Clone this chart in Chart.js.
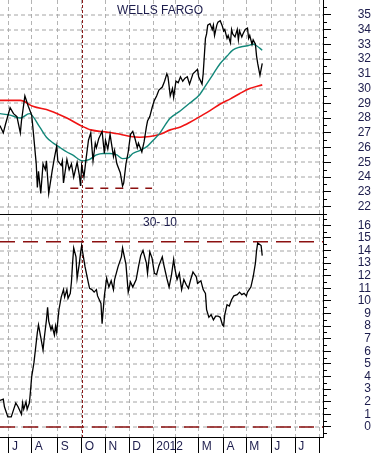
<!DOCTYPE html>
<html>
<head>
<meta charset="utf-8">
<script src="https://cdn.jsdelivr.net/npm/chart.js@4.4.1/dist/chart.umd.min.js"></script>
<style>
  html, body { margin: 0; padding: 0; background: #fff; }
  .wrap { width: 371px; height: 453px; position: relative; }
</style>
</head>
<body>
<div class="wrap"><canvas id="wfcChart"></canvas></div>
<script>
// x = trading-session index, 0 = first session of July 2011
const monthDays = [0, 20, 43, 64, 85, 106, 127, 147, 167, 189, 209, 231, 252, 273];
const monthLabels = ['J', 'A', 'S', 'O', 'N', 'D', '2012', '', 'M', 'A', 'M', 'J', 'J', ''];

const priceTicks = [22, 23, 24, 25, 26, 27, 28, 29, 30, 31, 32, 33, 34, 35];
const oscTicks = [0, 1, 2, 3, 4, 5, 6, 7, 8, 9, 10, 11, 12, 13, 14, 15, 16];

const priceDays = [
  -8, -5, -3, 1, 4, 7, 10, 11, 14, 17,
  20, 21, 24, 25, 26, 28, 30, 32, 33, 35,
  38, 40, 42, 43, 46, 47, 48, 51, 53, 55,
  57, 60, 62, 63, 64, 66, 68, 70, 72, 74,
  76, 77, 79, 82, 84, 85, 87, 89, 92, 93,
  95, 98, 100, 101, 103, 105, 107, 109, 111, 113,
  114, 117, 119, 121, 122, 124, 126, 128, 130, 132,
  135, 137, 139, 140, 142, 144, 145, 147, 149, 151,
  153, 155, 157, 159, 162, 166, 167, 170, 171, 173,
  174, 175, 177, 179, 180, 181, 183, 184, 186, 188,
  189, 190, 192, 193, 195, 196, 197, 199, 201, 202,
  203, 205, 206, 208, 210, 211, 212, 214, 215, 217,
  218, 219, 220, 221, 223,
];
const priceVals = [
  27.5, 27.0, 27.6, 28.7, 28.3, 28.1, 27.0, 27.8, 29.5, 28.8,
  28.2, 27.4, 24.9, 23.3, 24.4, 22.9, 24.9, 24.5, 25.1, 22.9,
  24.4, 25.3, 26.1, 25.1, 24.8, 25.1, 23.6, 25.2, 24.5, 24.9,
  24.0, 25.0, 24.1, 23.4, 24.8, 24.0, 25.3, 26.5, 27.0, 25.1,
  26.3, 26.0, 26.6, 27.1, 25.6, 26.5, 25.9, 26.9, 25.4, 25.8,
  24.9, 24.3, 23.4, 23.6, 24.9, 25.7, 26.9, 27.1, 26.6, 26.0,
  26.3, 25.7, 26.4, 27.4, 27.8, 28.1, 28.7, 29.2, 29.5, 29.9,
  30.1, 30.5, 31.0, 30.8, 29.5, 30.0, 29.4, 30.5, 30.4, 30.8,
  30.5, 30.7, 30.8, 30.3, 31.0, 31.3, 30.8, 30.3, 31.0, 33.4,
  33.7, 34.3, 34.4, 34.0, 34.3, 33.6, 34.3, 34.5, 34.6, 34.2,
  33.9, 34.0, 33.4, 33.6, 33.1, 34.0, 33.7, 33.5, 34.0, 33.3,
  33.9, 33.5, 33.7, 34.0, 34.1, 33.4, 33.6, 33.0, 33.3, 33.0,
  32.2, 31.7, 31.3, 30.9, 31.7,
];

const ma50Days = [
  -8, 1, 10, 18, 27, 33, 39, 45, 51, 56,
  65, 71, 77, 83, 89, 95, 100, 105, 109, 115,
  122, 127, 133, 139, 142, 151, 159, 168, 174, 180,
  186, 192, 197, 203, 210, 215, 218, 223,
];
const ma50Vals = [
  28.3, 28.2, 28.0, 28.3, 27.4, 26.7, 26.3, 26.0, 25.7, 25.5,
  25.1, 25.2, 25.5, 25.6, 25.6, 25.5, 25.25, 25.3, 25.6, 25.8,
  26.1, 26.5, 27.0, 27.7, 28.0, 28.5, 29.0, 29.6, 30.3, 31.0,
  31.7, 32.2, 32.6, 32.8, 32.9, 33.0, 32.9, 32.6,
];

const ma200Days = [
  -8, 10, 21, 36, 51, 63, 72, 86, 98, 107,
  115, 124, 133, 142, 151, 159, 168, 177, 186, 195,
  203, 212, 223,
];
const ma200Vals = [
  29.2, 29.2, 28.8, 28.5, 28.0, 27.5, 27.2, 27.05, 26.9, 26.75,
  26.7, 26.75, 26.9, 27.2, 27.4, 27.7, 28.1, 28.5, 28.95, 29.3,
  29.65, 30.0, 30.25,
];

const oscDays = [
  -8, -5, -4, -1, 2, 4, 6, 8, 11, 12,
  13, 15, 16, 18, 19, 20, 22, 24, 25, 26,
  28, 30, 31, 33, 34, 35, 37, 38, 40, 41,
  42, 44, 46, 48, 49, 51, 52, 54, 55, 56,
  57, 59, 60, 62, 63, 64, 65, 67, 70, 71,
  73, 75, 77, 78, 81, 82, 84, 86, 88, 90,
  92, 93, 96, 99, 100, 103, 105, 107, 109, 112,
  114, 116, 118, 121, 122, 124, 126, 128, 130, 132,
  135, 136, 139, 141, 143, 145, 146, 148, 150, 152,
  154, 156, 158, 160, 162, 165, 166, 169, 171, 173,
  174, 176, 178, 180, 182, 184, 186, 188, 189, 190,
  192, 194, 196, 198, 201, 203, 205, 207, 209, 210,
  213, 215, 217, 218, 219, 222, 223,
];
const oscVals = [
  2.1, 2.2, 1.6, 0.8, 0.8, 1.35, 1.9, 1.6, 1.0, 1.9,
  1.4, 2.0, 1.4, 1.9, 2.9, 4.0, 5.1, 6.7, 7.5, 8.1,
  7.1, 6.1, 7.0, 8.5, 9.5, 8.4, 7.7, 8.0, 7.3, 8.0,
  7.5, 9.3, 10.3, 10.9, 10.3, 10.9, 10.2, 10.6, 11.5, 13.0,
  14.2, 13.5, 11.8, 13.0, 13.8, 14.4, 13.8, 12.7, 11.4, 11.0,
  10.9, 10.7, 10.9, 10.4, 9.8, 8.2, 10.4, 11.8, 11.1, 11.6,
  10.9, 11.7, 12.7, 13.5, 14.2, 12.9, 10.7, 11.5, 11.1, 11.7,
  12.7, 13.6, 14.0, 13.0, 12.2, 13.9, 13.4, 12.2, 12.1, 12.8,
  13.5, 13.0, 11.8, 11.1, 12.0, 13.3, 12.6, 11.7, 12.2, 10.9,
  11.7, 11.3, 11.0, 11.7, 12.3, 11.9, 11.4, 11.6, 10.9, 10.6,
  9.3, 8.7, 8.9, 8.5, 8.8, 8.8, 8.7, 8.1, 8.0, 8.9,
  9.7, 9.6, 10.1, 10.4, 10.5, 10.7, 10.5, 10.6, 10.4, 10.7,
  11.1, 11.9, 13.0, 14.0, 14.6, 14.4, 13.6,
];

const supportLevel = 23.25;
const supportFrom = 54;
const supportTo = 126;
const oscBands = [14.7, 0];
const markerDay = 64;

const X_MIN = -7.9;
const X_MAX = 276.5;
const FONT = '"Liberation Sans", Arial, sans-serif';
const LABEL_COLOR = '#1c1c4c';
const GRID_COLOR = '#b4b4b4';

const toPoints = (days, vals) => days.map((d, i) => ({ x: d, y: vals[i] }));

const decor = {
  id: 'decor',
  beforeDatasetsDraw(chart) {
    const { ctx, chartArea, scales } = chart;
    ctx.save();
    ctx.lineWidth = 1;

    // horizontal grid of both panels
    ctx.strokeStyle = '#a4a4a4';
    ctx.setLineDash([4, 3]);
    [[scales.yTop, priceTicks], [scales.yBot, oscTicks]].forEach(([s, list]) => {
      list.forEach((v) => {
        const y = Math.round(s.getPixelForValue(v));
        ctx.beginPath();
        ctx.moveTo(chartArea.left, y);
        ctx.lineTo(chartArea.right, y);
        ctx.stroke();
      });
    });

    // Oct 1 marker
    const x = Math.round(scales.x.getPixelForValue(markerDay)) + 0.5;
    ctx.strokeStyle = '#8b1a1a';
    ctx.setLineDash([3, 2]);
    ctx.beginPath();
    ctx.moveTo(x, chartArea.top);
    ctx.lineTo(x, chartArea.bottom);
    ctx.stroke();
    ctx.restore();
  },
  afterDraw(chart) {
    const { ctx, chartArea, scales } = chart;
    ctx.save();
    ctx.lineWidth = 1;

    // divider between the two panels
    const sep = Math.round(scales.yTop.bottom) + 0.5;
    ctx.strokeStyle = '#000';
    ctx.beginPath();
    ctx.moveTo(chartArea.left, sep);
    ctx.lineTo(chartArea.right + 4, sep);
    ctx.stroke();

    // half-unit minor ticks on the right axes
    [scales.yTop, scales.yBot].forEach((s) => {
      const start = Math.ceil(s.min * 2) / 2;
      ctx.beginPath();
      for (let v = start; v <= s.max; v += 0.5) {
        if (Number.isInteger(v)) continue;
        const y = Math.round(s.getPixelForValue(v)) + 0.5;
        ctx.moveTo(s.left, y);
        ctx.lineTo(s.left + 4, y);
      }
      ctx.stroke();
    });

    ctx.fillStyle = LABEL_COLOR;
    ctx.font = `12px ${FONT}`;
    ctx.textAlign = 'center';
    ctx.textBaseline = 'middle';
    ctx.fillText('WELLS FARGO', 160, 11);
    ctx.fillText('30- 10', 160, 223);
    ctx.restore();
  },
};

const yAxis = (stackWeight, min, max, tickList) => ({
  type: 'linear',
  position: 'right',
  stack: 'panels',
  stackWeight,
  min,
  max,
  afterBuildTicks: (s) => { s.ticks = tickList.map((v) => ({ value: v })); },
  afterFit: (s) => { s.width = 48; s.paddingTop = 0; s.paddingBottom = 0; },
  grid: { drawOnChartArea: false, tickColor: '#000', tickLength: 8, tickBorderDash: [] },
  border: { color: '#000' },
  ticks: {
    color: LABEL_COLOR,
    font: { family: FONT, size: 12 },
    padding: 23,
    crossAlign: 'far',
    autoSkip: false,
  },
});

new Chart(document.getElementById('wfcChart'), {
  type: 'line',
  data: {
    datasets: [
      {
        data: toPoints(priceDays, priceVals),
        yAxisID: 'yTop',
        borderColor: '#000',
        borderWidth: 1.3,
        pointRadius: 0,
        tension: 0,
      },
      {
        data: toPoints(ma50Days, ma50Vals),
        yAxisID: 'yTop',
        borderColor: '#13887a',
        borderWidth: 1.4,
        pointRadius: 0,
        cubicInterpolationMode: 'monotone',
      },
      {
        data: toPoints(ma200Days, ma200Vals),
        yAxisID: 'yTop',
        borderColor: '#f01414',
        borderWidth: 1.6,
        pointRadius: 0,
        cubicInterpolationMode: 'monotone',
      },
      {
        data: toPoints(oscDays, oscVals),
        yAxisID: 'yBot',
        borderColor: '#000',
        borderWidth: 1.3,
        pointRadius: 0,
        tension: 0,
      },
      {
        data: [{ x: supportFrom, y: supportLevel }, { x: supportTo, y: supportLevel }],
        yAxisID: 'yTop',
        borderColor: '#8b1010',
        borderWidth: 1.5,
        borderDash: [8, 7],
        pointRadius: 0,
      },
      ...oscBands.map((level) => ({
        data: [{ x: X_MIN, y: level }, { x: X_MAX, y: level }],
        yAxisID: 'yBot',
        borderColor: '#8b1010',
        borderWidth: 1.5,
        borderDash: [15, 8],
        pointRadius: 0,
      })),
    ],
  },
  options: {
    responsive: true,
    maintainAspectRatio: false,
    animation: false,
    layout: { padding: 0 },
    plugins: {
      legend: { display: false },
      tooltip: { enabled: false },
    },
    scales: {
      x: {
        type: 'linear',
        position: 'bottom',
        min: X_MIN,
        max: X_MAX,
        afterBuildTicks: (s) => { s.ticks = monthDays.map((v) => ({ value: v })); },
        afterFit: (s) => { s.height = 16; s.paddingLeft = 0; s.paddingRight = 0; },
        grid: { color: GRID_COLOR, tickColor: '#000', tickLength: 16, tickBorderDash: [] },
        border: { color: '#000', dash: [4, 3] },
        ticks: {
          color: LABEL_COLOR,
          font: { family: FONT, size: 12 },
          align: 'start',
          labelOffset: 3,
          padding: -14,
          autoSkip: false,
          maxRotation: 0,
          callback: (value, index) => monthLabels[index],
        },
      },
      yTop: yAxis(214, 21.5, 36, priceTicks),
      yBot: yAxis(223, -0.8, 16.9, oscTicks),
    },
  },
  plugins: [decor],
});
</script>
</body>
</html>
